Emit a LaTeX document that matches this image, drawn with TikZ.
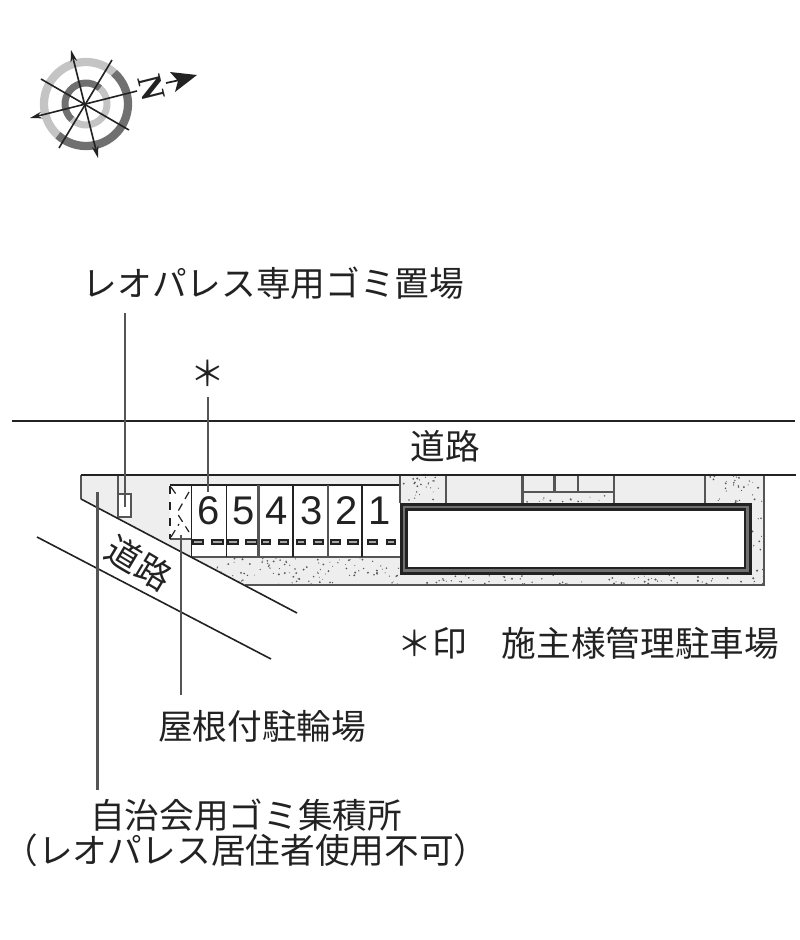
\documentclass[tikz,border=0pt]{standalone}
\usepackage{fontspec}
\usetikzlibrary{arrows.meta}
\newfontfamily\jpfont{Noto Sans CJK JP}
\newfontfamily\digfont{Liberation Sans}
\newfontfamily\nfont{Liberation Serif}[BoldFont={Liberation Serif Bold}]
\definecolor{inkc}{HTML}{222222}
\definecolor{leadc}{HTML}{555555}
\definecolor{sitec}{HTML}{EEEEEE}
\definecolor{ringl}{HTML}{C4C4C4}
\definecolor{ringd}{HTML}{707070}
\tikzset{
  jplabel/.style={inner sep=0pt,text=inkc,font=\jpfont\fontsize{26}{30}\selectfont},
  digit/.style={inner sep=0pt,text=inkc,font=\digfont\fontsize{30}{32}\selectfont},
  leader/.style={draw=leadc,line width=1.6pt},
  roadline/.style={draw=inkc,line width=1.2pt},
  wall/.style={draw=leadc,line width=1.7pt},
  blackwall/.style={draw=inkc,line width=1.3pt},
  compass/.style={draw=inkc,line width=1.2pt},
  stoptip/.style={>={Stealth[length=9pt,width=5pt]}},
}
\newcommand{\speckle}[5]{%
  \foreach \k in {1,...,#5}{%
    \pgfmathsetmacro{\px}{#1+rnd*(#3-#1)}%
    \pgfmathsetmacro{\py}{#2+rnd*(#4-#2)}%
    \pgfmathsetmacro{\pr}{0.45+rnd*0.65}%
    \fill[black!65] (\px,\py) circle[radius=\pr];%
  }%
}
\begin{document}
\begin{tikzpicture}[x=0.75pt,y=-0.75pt]
\useasboundingbox (0,0) rectangle (800,940);
\pgfmathsetseed{4217}

% --- compass
\coordinate (cc) at (86,104);
\draw[ringl,line width=6.2pt] (cc) ++(-48:42) arc[start angle=-48,end angle=-228,radius=42];
\draw[ringd,line width=6.2pt] (cc) ++(132:42) arc[start angle=132,end angle=-48,radius=42];
\draw[ringd,line width=5.2pt] (cc) ++(-48:21) arc[start angle=-48,end angle=-228,radius=21];
\draw[ringl,line width=5.2pt] (cc) ++(132:21) arc[start angle=132,end angle=-48,radius=21];
\coordinate (na) at (71,50);
\coordinate (nb) at (98,158);
\coordinate (ea) at (30,118);
\coordinate (eb) at (137,91);
\coordinate (da) at (41,79);
\coordinate (db) at (129,130);
\coordinate (fa) at (112,60);
\coordinate (fb) at (59,148);
\draw[compass,stoptip,<->] (na) -- (nb);
\draw[compass,stoptip,->] (eb) -- (ea);
\draw[compass] (da) -- (db);
\draw[compass] (fa) -- (fb);
\node[inner sep=0pt,text=inkc,rotate=-76,font=\nfont\bfseries\fontsize{26}{28}\selectfont] (north) at (152,88) {N};
\coordinate (sha) at (166,83);
\coordinate (shb) at (180,80);
\draw[inkc,line width=1.3pt] (sha) -- (shb);
\fill[inkc] (197,75) -- (170,72) -- (178,81) -- (175,92) -- cycle;

% --- site fills
\fill[sitec] (81,475) -- (401,475) -- (401,485) -- (170,485) -- (170,539) -- (191,539) -- (191,557) -- (81,499) -- cycle;
\fill[sitec] (191,557) -- (400,557) -- (400,574) -- (751,574) -- (751,503) -- (705,503) -- (705,475) -- (764,475) -- (764,585) -- (245,585) -- cycle;
\fill[sitec] (401,475) rectangle (705,503);

% --- stipple
\begin{scope}
\clip (191,557) -- (400,557) -- (400,574) -- (751,574) -- (751,503) -- (705,503) -- (705,475) -- (764,475) -- (764,585) -- (245,585) -- cycle;
\speckle{195}{558}{400}{585}{100}
\speckle{400}{575}{764}{585}{70}
\speckle{751}{480}{764}{585}{20}
\speckle{705}{476}{751}{503}{26}
\end{scope}
\speckle{403}{477}{444}{502}{24}
\speckle{524}{494}{612}{502}{13}

% --- lots
\fill[white] (191,485) rectangle (400,557);
\fill[white] (170,485) rectangle (191,539);
\foreach \xa/\xb in {193/203,212/223,228/238,246/257,262/270,279/288,297/305,314/323,331/340,348/358,368/377,387/395}{
  \draw[draw=inkc,fill=black!35,line width=.8pt] (\xa,540) rectangle (\xb,544);
}
\draw[blackwall] (170,485) -- (400,485);
\draw[wall] (191,557) -- (400,557);
\foreach \x in {191.5,226.5,293,362}{\draw[blackwall] (\x,485) -- (\x,557);}
\foreach \x in {258.5,328}{\draw[wall] (\x,485) -- (\x,557);}
\draw[wall] (170,539) -- (191,539);
\draw[inkc,line width=.9pt,dash pattern=on 6pt off 6pt] (170,486) -- (170,539);
\draw[inkc,line width=.9pt,dash pattern=on 6pt off 4pt] (171,487) -- (178,497);
\draw[inkc,line width=.9pt,dash pattern=on 6pt off 4pt] (189,492) -- (177,513) -- (189,532);
\draw[inkc,line width=.9pt,dash pattern=on 6pt off 4pt] (171,537) -- (179,524);

% --- top-strip partitions
\draw[wall] (400,475) -- (400,503);
\draw[wall] (446,475) -- (446,503);
\draw[wall] (522.5,475) -- (522.5,503);
\draw[wall] (554.5,475) -- (554.5,492);
\draw[wall] (578,475) -- (578,492);
\draw[wall] (614,475) -- (614,503);
\draw[wall] (705,475) -- (705,503);
\draw[wall] (522.5,492) -- (614,492);

% --- building
\draw[inkc,line width=2.3pt,fill=white] (401.5,504.5) rectangle (750,573);
\draw[ringd,line width=1.7pt] (404,507) rectangle (747.5,570.5);
\draw[inkc,line width=2.1pt] (406.5,509.5) rectangle (745,568);

% --- site outline and roads
\draw[wall] (764,475) -- (764,585) -- (245,585);
\draw[wall] (81,499) -- (81,475);
\draw[wall] (118,475) -- (118,518);
\draw[draw=leadc,line width=1.3pt,fill=white] (118,494) rectangle (131,517);
\draw[roadline] (81,475) -- (796,475);
\coordinate (ra) at (81,499);
\coordinate (rb) at (297,613);
\coordinate (rc) at (37,537);
\coordinate (rd) at (271,659);
\coordinate (re) at (12,421);
\coordinate (rf) at (795,421);
\draw[roadline] (ra) -- (rb);
\draw[roadline] (rc) -- (rd);
\draw[roadline] (re) -- (rf);

% --- digits
\foreach \n/\x/\t in {d6/209/6,d5/244/5,d4/277/4,d3/312/3,d2/347/2,d1/380/1}{
  \node[digit] (\n) at (\x,511) {\t};
}

% --- labels
\node[jplabel] (gomi) at (273.5,283) {レオパレス専用ゴミ置場};
\node[jplabel] (star) at (208,373) {＊};
\node[jplabel] (road1) at (445,446) {道路};
\node[jplabel,rotate=-31] (road2) at (139,563) {道路};
\node[jplabel] (mark) at (588.5,643) {＊印　施主様管理駐車場};
\node[jplabel] (roof) at (262,726) {屋根付駐輪場};
\node[jplabel] (auto) at (246,815) {自治会用ゴミ集積所};
\node[jplabel] (auto2) at (246,850) {（レオパレス居住者使用不可）};

% --- leaders
\coordinate (l1a) at (125,313);
\coordinate (l1b) at (125,507);
\coordinate (l2a) at (208,397);
\coordinate (l2b) at (208,492);
\coordinate (l3a) at (181,535);
\coordinate (l3b) at (181,695);
\coordinate (l4a) at (97.5,492);
\coordinate (l4b) at (97.5,790);
\draw[leader] (l1a) -- (l1b);
\draw[leader] (l2a) -- (l2b);
\draw[leader] (l3a) -- (l3b);
\draw[leader] (l4a) -- (l4b);
\end{tikzpicture}
\end{document}
